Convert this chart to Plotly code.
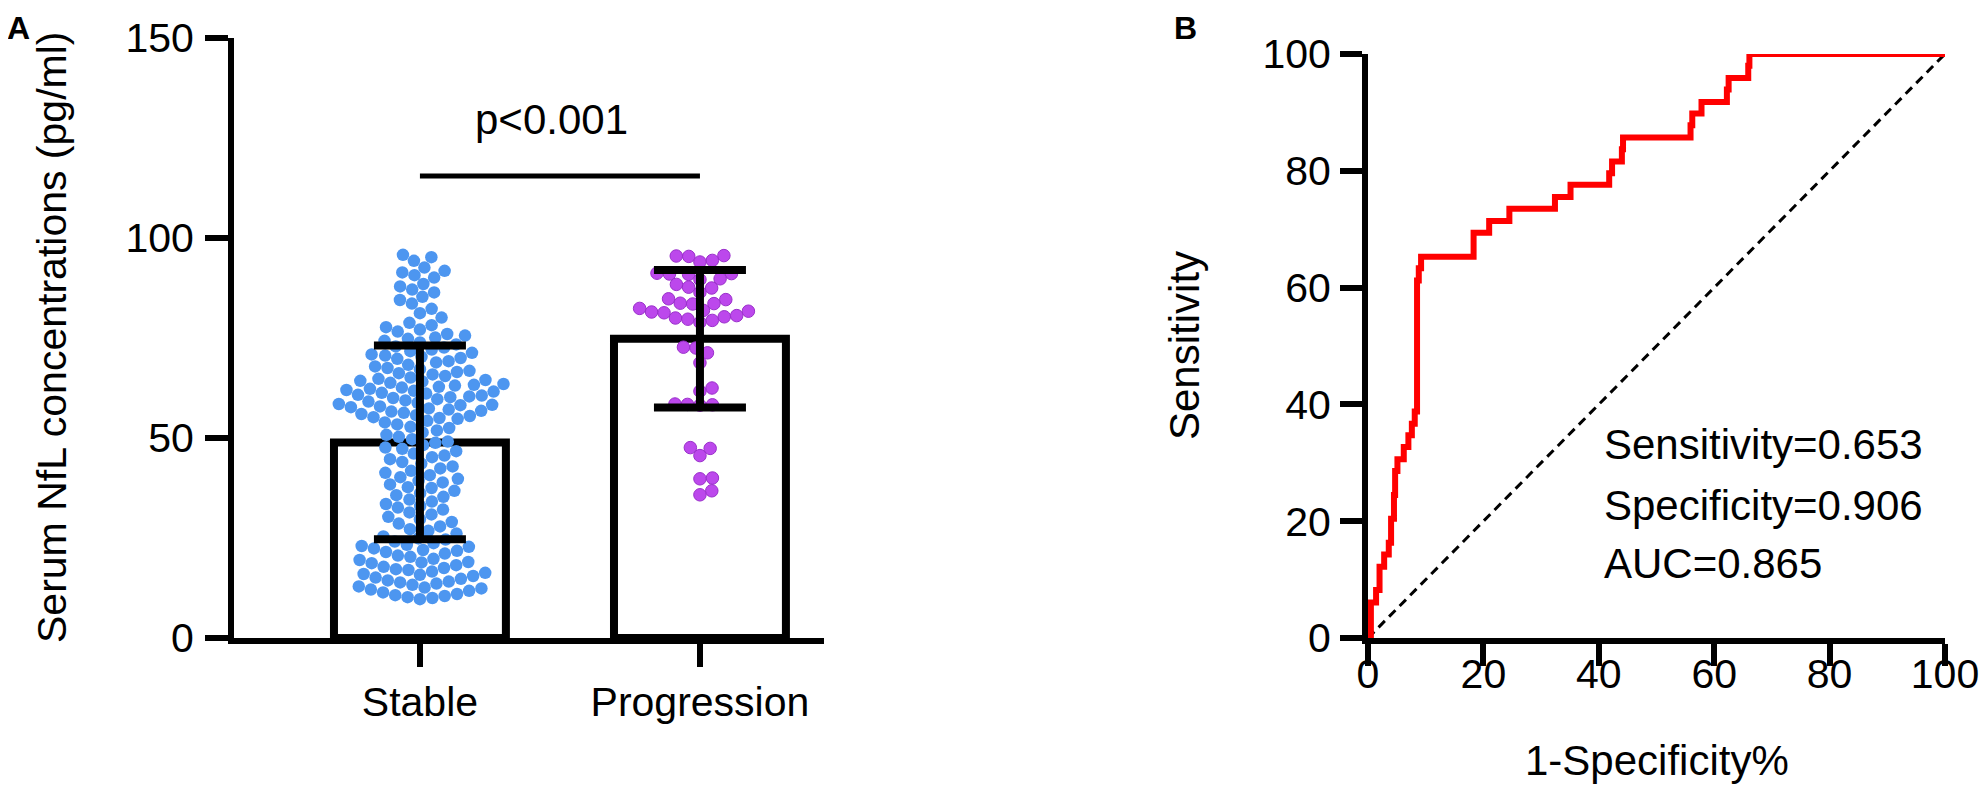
import plotly.graph_objects as go
import numpy as np

# ---- data ----
groups = ["Stable", "Progression"]
bar_means = [48.9, 74.8]
bar_sd = [24.2, 17.2]

stable_vals = [
    95.8, 95.2, 94.3,
    92.6, 91.8, 91.4, 90.7, 90.1,
    88.5, 87.9, 87.1, 86.4,
    85.3, 84.5, 83.6,
    82.3, 81.2, 80.1,
    78.8, 78.2, 77.7, 77.1, 76.6, 76.0, 75.6, 75.1,
    74.8, 74.3, 73.9, 73.4, 72.9, 72.6, 72.1, 71.7, 71.3, 70.9, 70.6, 70.3, 70.0,
    69.8, 69.2, 68.9, 68.3, 67.9, 67.5, 67.2, 66.8, 66.5, 66.2, 65.9, 65.5, 65.1,
    64.8, 64.5, 64.3, 64.1, 63.8, 63.5, 63.3, 63.1, 62.8, 62.6, 62.3, 62.0, 61.8,
    61.6, 61.3, 61.1, 60.8, 60.6, 60.4, 60.2, 60.0,
    59.7, 59.4, 59.1, 58.8, 58.5, 58.3, 58.2, 57.9, 57.7, 57.4, 57.1, 56.8, 56.6,
    56.3, 56.0, 55.7, 55.5, 55.2, 55.0,
    54.8, 54.3, 53.9, 53.4, 52.8, 52.5, 51.9, 51.4, 50.8, 50.3,
    49.7, 49.1, 48.8, 48.2, 47.6, 47.3, 46.7, 46.1, 45.6, 45.2,
    44.7, 44.0, 43.6, 42.9, 42.4, 41.8, 41.3, 40.7, 40.2,
    39.8, 39.3, 38.9, 38.4, 37.7, 37.5, 36.8, 36.2, 35.7, 35.3,
    34.6, 34.1, 33.5, 33.0, 32.6, 32.1, 31.4, 30.9, 30.3,
    29.7, 29.0, 28.6, 27.9, 27.2, 26.8, 26.1, 25.4,
    24.9, 24.6, 24.1, 23.7, 23.3, 23.0, 22.8, 22.4, 22.0, 21.8, 21.5, 21.1, 20.6, 20.3,
    19.8, 19.5, 19.0, 18.9, 18.7, 18.2, 17.8, 17.5, 17.2, 17.0, 16.6, 16.3, 16.0, 15.8,
    15.5, 15.1,
    14.8, 14.4, 14.1, 13.9, 13.6, 13.3, 12.9, 12.6, 12.4, 12.1, 11.8, 11.4, 11.0,
    10.7, 10.5, 10.2, 10.0, 9.7,
]

progression_vals = [
    95.6, 95.5, 95.4, 94.4, 94.0,
    91.2, 91.1, 91.0, 90.9, 89.8, 89.6, 88.4, 87.7, 87.5, 86.4,
    84.8, 84.6, 83.7, 83.6, 83.5, 82.4, 81.9, 81.7, 81.5, 81.3,
    80.6, 80.3, 80.0, 79.7, 79.4, 78.9,
    72.7, 72.5, 71.3, 68.8, 62.5, 61.7,
    58.5, 58.4, 58.3, 58.2,
    47.6, 47.4, 45.6, 40.0, 39.8, 36.8, 35.8,
]

roc_fpr = [0, 0.5, 1.4, 2.0, 2.8, 3.6, 4.0, 4.5, 4.7, 5.1, 6.2, 7.0, 7.6, 8.1,
           8.5, 8.8, 9.2, 18.3, 21.0, 24.5, 32.4, 35.1, 41.8, 42.3, 44.0, 44.2,
           55.9, 56.2, 57.8, 62.2, 62.5, 65.9, 66.1, 100]
roc_tpr = [0, 6.1, 8.2, 12.2, 14.3, 16.3, 20.4, 24.5, 28.6, 30.6, 32.7, 34.7, 36.7, 38.8,
           61.2, 63.3, 65.3, 69.4, 71.4, 73.5, 75.5, 77.6, 79.6, 81.6, 83.7, 85.7,
           87.8, 89.8, 91.8, 93.9, 95.9, 98.0, 100, 100]

stats_text = ["Sensitivity=0.653", "Specificity=0.906", "AUC=0.865"]

# ---- layout geometry ----
# positions are page pixels; the page body has an 8px margin, so the figure
# starts at (8, 8) and is sized to stay inside the window
PAGE_W, PAGE_H = 1987, 795
OFF = 8
W, H = PAGE_W - OFF, PAGE_H - 2 * OFF


def fx(px):
    return (px - OFF) / W


def fy(py):
    return 1 - (py - OFF) / H


xA_dom = [fx(234), fx(824)]
yA_dom = [fy(638), fy(38)]
xB_dom = [fx(1368), fx(1945)]
yB_dom = [fy(638), fy(54)]
xA_rng = [-0.664, 1.443]
yA_rng = [0, 150]

px_x = (xA_dom[1] - xA_dom[0]) * W / (xA_rng[1] - xA_rng[0])
px_y = (yA_dom[1] - yA_dom[0]) * H / (yA_rng[1] - yA_rng[0])
DOT = 12.5


def swarm(vals, d=DOT):
    # simple beeswarm layout in pixel space
    ys = np.array(vals) * px_y
    order = np.argsort(ys)
    placed = []
    xs = np.zeros(len(vals))
    for i in order:
        y = ys[i]
        near = [(px, py) for px, py in placed if abs(py - y) < d]
        cands = [0.0]
        for px, py in near:
            dx = np.sqrt(d * d - (py - y) ** 2)
            cands += [px + dx, px - dx]
        cands.sort(key=abs)
        for c in cands:
            if all((c - px) ** 2 + (y - py) ** 2 >= d * d - 1e-6 for px, py in near):
                xs[i] = c
                break
        placed.append((xs[i], y))
    return xs / px_x


fig = go.Figure()

fig.add_trace(go.Bar(
    x=[0, 1], y=bar_means, width=0.614,
    marker=dict(color="rgba(255,255,255,0)", line=dict(color="black", width=8)),
    xaxis="x", yaxis="y",
))

fig.add_trace(go.Scatter(
    x=0 + swarm(stable_vals), y=stable_vals, mode="markers",
    marker=dict(size=DOT, color="#4D96F0"),
    xaxis="x", yaxis="y",
))
fig.add_trace(go.Scatter(
    x=1 + swarm(progression_vals), y=progression_vals, mode="markers",
    marker=dict(size=DOT, color="#BC48EC", line=dict(color="#9A2FCB", width=1)),
    xaxis="x", yaxis="y",
))

# error bars on top of the dots
fig.add_trace(go.Scatter(
    x=[0, 1], y=bar_means, mode="markers",
    marker=dict(size=1, color="rgba(0,0,0,0)"),
    error_y=dict(type="data", array=bar_sd, color="black", thickness=8, width=46),
    xaxis="x", yaxis="y",
))

# ROC
fig.add_trace(go.Scatter(
    x=[0, 100], y=[0, 100], mode="lines",
    line=dict(color="black", width=3, dash="9px,6px"),
    xaxis="x2", yaxis="y2",
))
fig.add_trace(go.Scatter(
    x=roc_fpr, y=roc_tpr, mode="lines",
    line=dict(color="#FF0000", width=6, shape="hv"),
    xaxis="x2", yaxis="y2",
))

font = "Liberation Sans, Arial, sans-serif"
ax_common = dict(showline=True, linecolor="black", linewidth=6, ticks="outside",
                 tickwidth=6, tickcolor="black", showgrid=False, zeroline=False,
                 ticklabeloverflow="allow",
                 tickfont=dict(size=41, color="black", family=font))

fig.update_layout(
    width=W, height=H,
    margin=dict(l=0, r=0, t=0, b=0, autoexpand=False),
    paper_bgcolor="white", plot_bgcolor="white",
    showlegend=False,
    xaxis=dict(domain=xA_dom, range=xA_rng, tickvals=[0, 1], ticktext=groups,
               ticklen=23, ticklabelstandoff=0, anchor="y", **ax_common),
    yaxis=dict(domain=yA_dom, range=yA_rng, tickvals=[0, 50, 100, 150],
               ticklen=23, ticklabelstandoff=3, anchor="x", **ax_common),
    xaxis2=dict(domain=xB_dom, range=[0, 100], tickvals=[0, 20, 40, 60, 80, 100],
                ticklen=22, ticklabelstandoff=-27, anchor="y2", **ax_common),
    yaxis2=dict(domain=yB_dom, range=[0, 100], tickvals=[0, 20, 40, 60, 80, 100],
                ticklen=22, ticklabelstandoff=1, anchor="x2", **ax_common),
)

fig.add_shape(type="line", xref="x", yref="y", x0=0, x1=1, y0=115.5, y1=115.5,
              line=dict(color="black", width=5))

ann = []
ann.append(dict(text="p<0.001", xref="x", yref="y", x=0.47, y=129.5,
                font=dict(size=42)))
ann.append(dict(text="<b>A</b>", xref="paper", yref="paper", x=fx(18), y=1,
                yanchor="top", font=dict(size=32)))
ann.append(dict(text="<b>B</b>", xref="paper", yref="paper", x=fx(1185), y=1,
                yanchor="top", font=dict(size=32)))
ann.append(dict(text="Serum NfL concentrations (pg/ml)", xref="paper", yref="paper",
                x=fx(52), y=sum(yA_dom) / 2, textangle=-90, font=dict(size=41)))
ann.append(dict(text="Sensitivity", xref="paper", yref="paper",
                x=fx(1184), y=sum(yB_dom) / 2, textangle=-90, font=dict(size=42)))
ann.append(dict(text="1-Specificity%", xref="paper", yref="paper",
                x=sum(xB_dom) / 2, y=fy(760), font=dict(size=42)))
for t, yy in zip(stats_text, [444, 505, 563]):
    ann.append(dict(text=t, xref="paper", yref="paper", x=fx(1602), y=fy(yy),
                    xanchor="left", font=dict(size=42)))
for a in ann:
    a.setdefault("showarrow", False)
    a.setdefault("xanchor", "center")
    a.setdefault("yanchor", "middle")
    a["font"].update(family=font, color="black")
fig.update_layout(annotations=ann)

fig.write_html("out.html")
